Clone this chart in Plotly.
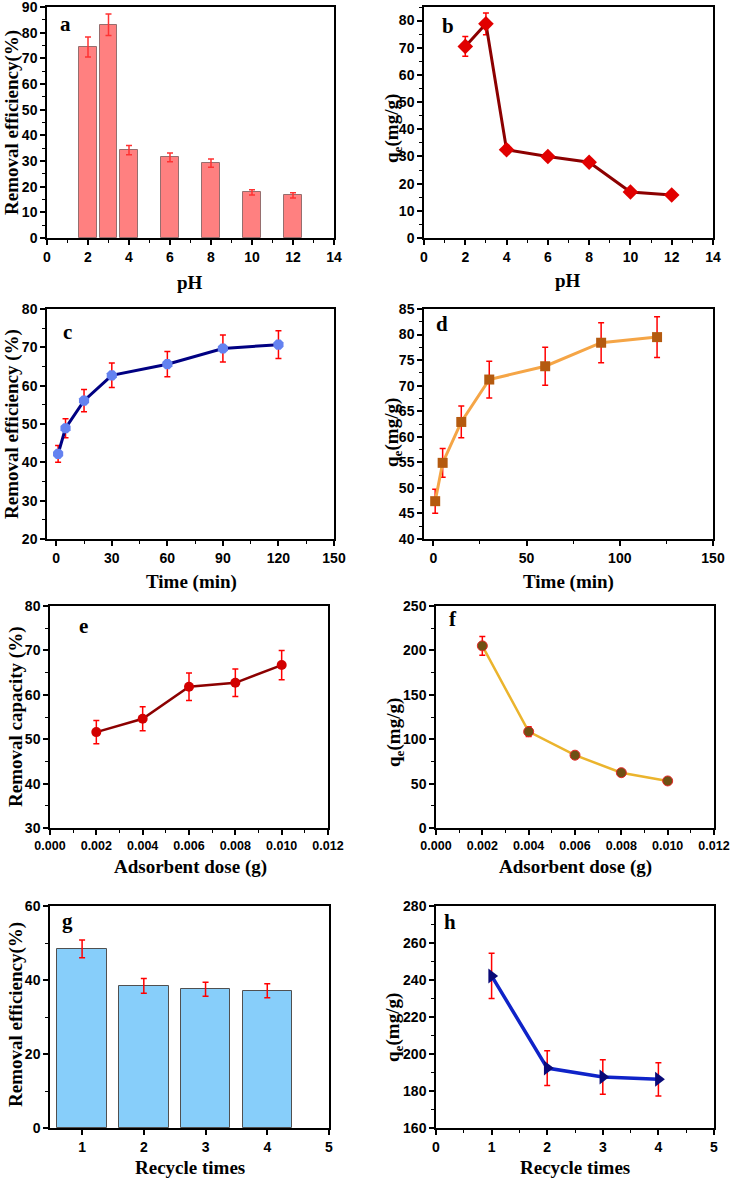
import plotly.graph_objects as go
from plotly.subplots import make_subplots

# ---------------- data ----------------
ph_bar = [2, 3, 4, 6, 8, 10, 12]
removal_ph = [74.4, 83.1, 34.2, 31.4, 29.2, 17.8, 16.6]
removal_ph_err = [3.9, 4.2, 1.8, 1.7, 1.6, 1.0, 1.0]

ph_line = [2, 3, 4, 6, 8, 10, 12]
qe_ph = [70.5, 78.8, 32.5, 30.0, 27.9, 16.9, 15.8]
qe_ph_err = [3.6, 4.0, 1.5, 1.2, 1.2, 0.9, 0.9]

time_min = [1, 5, 15, 30, 60, 90, 120]
removal_time = [42.2, 48.9, 56.1, 62.7, 65.6, 69.7, 70.7]
removal_time_err = [2.2, 2.5, 2.9, 3.2, 3.3, 3.5, 3.6]
qe_time = [47.4, 54.9, 62.9, 71.2, 73.8, 78.4, 79.5]
qe_time_err = [2.35, 2.8, 3.1, 3.6, 3.7, 3.9, 4.0]

dose = [0.002, 0.004, 0.006, 0.008, 0.010]
removal_dose = [51.6, 54.6, 61.8, 62.7, 66.7]
removal_dose_err = [2.6, 2.7, 3.1, 3.1, 3.3]
qe_dose = [205.1, 108.5, 82.0, 62.3, 53.0]
qe_dose_err = [10.5, 5.6, 2.5, 1.5, 1.5]

recycle = [1, 2, 3, 4]
removal_recycle = [48.4, 38.4, 37.5, 37.1]
removal_recycle_err = [2.4, 2.0, 1.9, 1.9]
qe_recycle = [242.2, 192.4, 187.6, 186.3]
qe_recycle_err = [12.2, 9.4, 9.3, 9.0]

# ---------------- figure ----------------
W, H = 730, 1180
fig = make_subplots(rows=4, cols=2)

def err(arr, color="rgb(255,0,0)"):
    return dict(type="data", array=arr, color=color, thickness=1.5, width=3)

# a
fig.add_trace(go.Bar(x=ph_bar, y=removal_ph, width=0.85,
                     marker=dict(color="rgb(255,128,128)",
                                 line=dict(color="rgb(150,110,110)", width=1)),
                     error_y=err(removal_ph_err, "rgb(255,50,50)"),
                     showlegend=False), row=1, col=1)
# b
fig.add_trace(go.Scatter(x=ph_line, y=qe_ph, mode="lines+markers",
                         line=dict(color="rgb(140,0,0)", width=3),
                         marker=dict(symbol="diamond", size=12, color="rgb(225,0,0)"),
                         error_y=err(qe_ph_err), showlegend=False), row=1, col=2)
# c
fig.add_trace(go.Scatter(x=time_min, y=removal_time, mode="lines+markers",
                         line=dict(color="rgb(0,0,130)", width=3),
                         marker=dict(symbol="octagon", size=11, color="rgb(100,130,240)"),
                         error_y=err(removal_time_err), showlegend=False), row=2, col=1)
# d
fig.add_trace(go.Scatter(x=time_min, y=qe_time, mode="lines+markers",
                         line=dict(color="rgb(245,165,70)", width=3),
                         marker=dict(symbol="square", size=10, color="rgb(180,90,15)"),
                         error_y=err(qe_time_err), showlegend=False), row=2, col=2)
# e
fig.add_trace(go.Scatter(x=dose, y=removal_dose, mode="lines+markers",
                         line=dict(color="rgb(140,0,0)", width=2.5),
                         marker=dict(symbol="circle", size=10, color="rgb(210,0,0)"),
                         error_y=err(removal_dose_err), showlegend=False), row=3, col=1)
# f
fig.add_trace(go.Scatter(x=dose, y=qe_dose, mode="lines+markers",
                         line=dict(color="rgb(235,180,45)", width=2.5),
                         marker=dict(symbol="circle", size=10, color="rgb(110,80,20)",
                                     line=dict(color="rgb(230,40,40)", width=1)),
                         error_y=err(qe_dose_err), showlegend=False), row=3, col=2)
# g
fig.add_trace(go.Bar(x=recycle, y=removal_recycle, width=0.8,
                     marker=dict(color="rgb(135,206,250)",
                                 line=dict(color="rgb(80,80,80)", width=1)),
                     error_y=err(removal_recycle_err),
                     showlegend=False), row=4, col=1)
# h
fig.add_trace(go.Scatter(x=recycle, y=qe_recycle, mode="lines+markers",
                         line=dict(color="rgb(15,35,200)", width=3.5),
                         marker=dict(symbol="triangle-right", size=13, color="rgb(10,10,120)"),
                         error_y=err(qe_recycle_err), showlegend=False), row=4, col=2)

# ---------------- layout ----------------
def xd(l, r):
    return [l / W, r / W]

def yd(t, b):
    return [1 - b / H, 1 - t / H]

panels = {
    1: (xd(47, 334), yd(7, 238), [0, 14], 2, 1, [0, 90], 10, 5, None),
    2: (xd(424, 713), yd(7, 238), [0, 14], 2, 1, [0, 85], 10, 5, None),
    3: (xd(47, 334), yd(309, 539), [-5, 150], 30, 15, [20, 80], 10, 5, None),
    4: (xd(424, 713), yd(309, 539), [-5, 150], 50, 25, [40, 85], 5, 2.5, None),
    5: (xd(50, 328), yd(606, 828), [0, 0.012], 0.002, 0.001, [30, 80], 10, 5, ".3f"),
    6: (xd(436, 714), yd(606, 828), [0, 0.012], 0.002, 0.001, [0, 250], 50, 25, ".3f"),
    7: (xd(50, 329), yd(906, 1128), [0.48, 5], 1, None, [0, 60], 20, 10, None),
    8: (xd(436, 714), yd(906, 1128), [0, 5], 1, 0.5, [160, 280], 20, 10, None),
}

tickfont = dict(family="Liberation Sans, Arial, sans-serif", size=14, color="black", weight="bold")
tickfont_small = dict(tickfont, size=12.5)

for i, (xdom, ydom, xr, xdt, xmin, yr, ydt, ymin, xfmt) in panels.items():
    s = "" if i == 1 else str(i)
    xa = dict(domain=xdom, range=xr, showgrid=False, zeroline=False, automargin=False,
              showline=True, linecolor="black", linewidth=1.5, mirror=True,
              ticks="outside", ticklen=5, tickwidth=1.5, tickcolor="black",
              tickfont=tickfont, tick0=0, dtick=xdt, ticklabeloverflow="allow")
    if i == 7:
        xa.update(tickmode="array", tickvals=[1, 2, 3, 4, 5])
    if xmin is not None:
        xa["minor"] = dict(ticks="outside", ticklen=3, tickwidth=1.2, tickcolor="black",
                           dtick=xmin, tick0=0, showgrid=False)
    if xfmt:
        xa["tickformat"] = xfmt
        xa["tickfont"] = tickfont_small
    ya = dict(domain=ydom, range=yr, showgrid=False, zeroline=False, automargin=False,
              showline=True, linecolor="black", linewidth=1.5, mirror=True,
              ticks="outside", ticklen=5, tickwidth=1.5, tickcolor="black",
              tickfont=tickfont, tick0=0, dtick=ydt, ticklabeloverflow="allow",
              minor=dict(ticks="outside", ticklen=3, tickwidth=1.2, tickcolor="black",
                         dtick=ymin, tick0=0, showgrid=False))
    fig.layout["xaxis" + s].update(xa)
    fig.layout["yaxis" + s].update(ya)

titlefont = dict(family="Liberation Serif, Times New Roman, serif", size=19, color="black", weight="bold")
letterfont = dict(family="Liberation Serif, Times New Roman, serif", size=21, color="black", weight="bold")

annots = []
def ann(text, x, y, font, angle=0):
    annots.append(dict(text=text, x=x / W, y=1 - y / H, xref="paper", yref="paper",
                       showarrow=False, font=font, textangle=angle,
                       xanchor="center", yanchor="middle"))

# x titles
ann("pH", 190, 282, titlefont)
ann("pH", 568, 281, titlefont)
ann("Time (min)", 192, 582, titlefont)
ann("Time (min)", 568, 582, titlefont)
ann("Adsorbent dose (g)", 190, 867, titlefont)
ann("Adsorbent dose (g)", 575, 867, titlefont)
ann("Recycle times", 190, 1167, titlefont)
ann("Recycle times", 575, 1167, titlefont)
# y titles
ann("Removal efficiency(%)", 12, 123, titlefont, -90)
ann("q<sub>e</sub>(mg/g)", 393, 128, titlefont, -90)
ann("Removal efficiency (%)", 12, 424, titlefont, -90)
ann("q<sub>e</sub>(mg/g)", 393, 432, titlefont, -90)
ann("Removal capacity (%)", 16, 717, titlefont, -90)
ann("q<sub>e</sub>(mg/g)", 395, 733, titlefont, -90)
ann("Removal efficiency(%)", 16, 1015, titlefont, -90)
ann("q<sub>e</sub>(mg/g)", 394, 1028, titlefont, -90)
# panel letters
ann("a", 65, 24, letterfont)
ann("b", 448, 26, letterfont)
ann("c", 67, 332, letterfont)
ann("d", 442, 324, letterfont)
ann("e", 83, 626, letterfont)
ann("f", 453, 619, letterfont)
ann("g", 67, 921, letterfont)
ann("h", 450, 922, letterfont)

fig.update_layout(width=W, height=H, margin=dict(l=0, r=0, t=0, b=0, autoexpand=False),
                  plot_bgcolor="white", paper_bgcolor="white",
                  annotations=annots, showlegend=False, bargap=0)

# remove the browser's default 8px page margin so the figure sits at the page origin
fig.write_html("out.html", config={"displayModeBar": False},
               post_script="document.body.style.margin='0px';document.body.style.overflow='hidden';")
